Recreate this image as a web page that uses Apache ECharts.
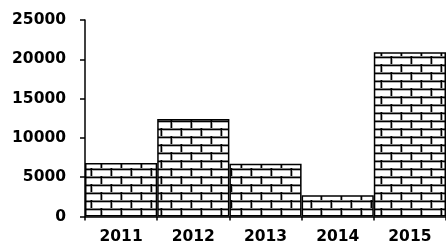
<!DOCTYPE html>
<html>
<head>
<meta charset="utf-8">
<script src="https://cdn.jsdelivr.net/npm/echarts@6/dist/echarts.min.js"></script>
<style>
  html, body { margin: 0; padding: 0; background: #fff; }
  #chart { width: 446px; height: 246px; }
</style>
</head>
<body>
<div id="chart"></div>
<script>
var years = ["2011", "2012", "2013", "2014", "2015"];
var values = [6800, 12400, 6700, 2700, 20900];
var yTicks = [0, 5000, 10000, 15000, 20000, 25000];

// brick fill, drawn once on a small canvas and tiled
function makeBricks() {
    var c = document.createElement("canvas");
    c.width = 20;
    c.height = 16;
    var g = c.getContext("2d");
    g.fillStyle = "#fff";
    g.fillRect(0, 0, 20, 16);
    // light grey edge next to the mortar
    g.fillStyle = "#b4b4b4";
    g.fillRect(0, 2, 20, 1);
    g.fillRect(0, 10, 20, 1);
    g.fillRect(2, 0, 1, 8);
    g.fillRect(12, 8, 1, 8);
    // mortar lines
    g.fillStyle = "#000";
    g.fillRect(0, 0.5, 20, 1.5);
    g.fillRect(0, 8.5, 20, 1.5);
    g.fillRect(0.5, 0, 1.5, 8);
    g.fillRect(10.5, 8, 1.5, 8);
    return c;
}

var chart = echarts.init(document.getElementById("chart"));
var font = "DejaVu Sans";

chart.setOption({
    animation: false,
    grid: { left: 85, right: -3, top: 20, bottom: 29.5 },
    xAxis: {
        type: "category",
        data: years,
        axisLine: { lineStyle: { color: "#000", width: 1.5 } },
        axisTick: { show: true, length: 4, lineStyle: { color: "#000", width: 1.5 } },
        axisLabel: { color: "#000", fontFamily: font, fontWeight: "bold", fontSize: 15.5, margin: 12 }
    },
    yAxis: {
        type: "value",
        min: yTicks[0],
        max: yTicks[yTicks.length - 1],
        interval: yTicks[1] - yTicks[0],
        splitLine: { show: false },
        axisLine: { show: true, lineStyle: { color: "#000", width: 1.5 } },
        axisTick: { show: true, length: 5, lineStyle: { color: "#000", width: 1.5 } },
        axisLabel: {
            color: "#000", fontFamily: font, fontWeight: "bold", fontSize: 15.5, margin: 19,
            formatter: function (v) { return String(v); }
        }
    },
    series: [{
        type: "bar",
        data: values,
        barCategoryGap: 0,
        itemStyle: {
            color: { image: makeBricks(), repeat: "repeat" },
            borderColor: "#000",
            borderWidth: 1.5
        }
    }]
});
</script>
</body>
</html>
